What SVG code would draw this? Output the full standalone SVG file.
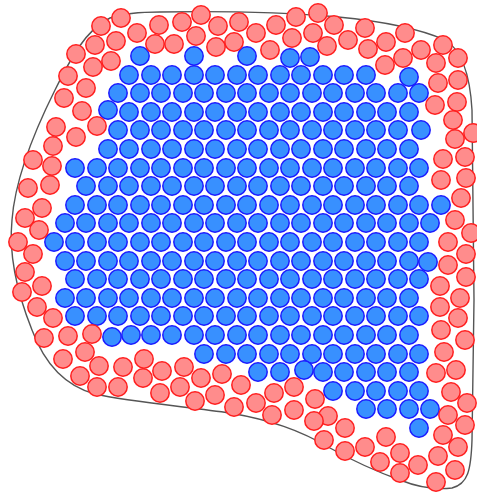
<svg xmlns="http://www.w3.org/2000/svg" width="477" height="498" viewBox="0 0 477 498">
<style>
#outline{fill:none;stroke:#555;stroke-width:1.4}
.b circle{fill:#3890ff;stroke:#1b1bff;stroke-width:1.5}
.r circle{fill:#ff8c8c;stroke:#ff1f1f;stroke-width:1.5}
</style>
<rect width="477" height="498" fill="#fff"/>
<path id="outline" d="M160 12 C220 11 280 12 338 17 C380 21 420 29 445 40 C462 50 470 75 472 110 L474 300 L472 440 C471 470 468 484 452 488 C435 490 415 486 400 480 C375 471 355 462 330 448 C300 430 270 420 230 413 C190 407 130 402 95 394 C65 386 45 365 32 330 C20 300 8 260 12 220 C15 180 35 130 55 90 C70 60 85 30 110 18 C125 13 140 12 160 12 Z"/>
<g id="blue" class="b">
<circle cx="140" cy="56" r="9.2"/><circle cx="194" cy="56" r="9.2"/><circle cx="247" cy="56" r="9.2"/><circle cx="290" cy="58" r="9.2"/><circle cx="310" cy="57" r="9.2"/>
<circle cx="129" cy="75" r="9.2"/><circle cx="151" cy="75" r="9.2"/><circle cx="172" cy="75" r="9.2"/><circle cx="194" cy="75" r="9.2"/><circle cx="215" cy="75" r="9.2"/><circle cx="237" cy="75" r="9.2"/><circle cx="258" cy="75" r="9.2"/><circle cx="280" cy="75" r="9.2"/><circle cx="301" cy="75" r="9.2"/><circle cx="323" cy="75" r="9.2"/><circle cx="344" cy="75" r="9.2"/><circle cx="366" cy="75" r="9.2"/><circle cx="409" cy="77" r="9.2"/>
<circle cx="118" cy="93" r="9.2"/><circle cx="140" cy="93" r="9.2"/><circle cx="161" cy="93" r="9.2"/><circle cx="183" cy="93" r="9.2"/><circle cx="204" cy="93" r="9.2"/><circle cx="226" cy="93" r="9.2"/><circle cx="247" cy="93" r="9.2"/><circle cx="269" cy="93" r="9.2"/><circle cx="290" cy="93" r="9.2"/><circle cx="312" cy="93" r="9.2"/><circle cx="333" cy="93" r="9.2"/><circle cx="355" cy="93" r="9.2"/><circle cx="376" cy="93" r="9.2"/><circle cx="398" cy="93" r="9.2"/><circle cx="419" cy="93" r="9.2"/>
<circle cx="108" cy="110" r="9.2"/><circle cx="129" cy="112" r="9.2"/><circle cx="151" cy="112" r="9.2"/><circle cx="172" cy="112" r="9.2"/><circle cx="194" cy="112" r="9.2"/><circle cx="215" cy="112" r="9.2"/><circle cx="237" cy="112" r="9.2"/><circle cx="258" cy="112" r="9.2"/><circle cx="280" cy="112" r="9.2"/><circle cx="301" cy="112" r="9.2"/><circle cx="323" cy="112" r="9.2"/><circle cx="344" cy="112" r="9.2"/><circle cx="366" cy="112" r="9.2"/><circle cx="387" cy="112" r="9.2"/><circle cx="409" cy="112" r="9.2"/>
<circle cx="118" cy="130" r="9.2"/><circle cx="140" cy="130" r="9.2"/><circle cx="161" cy="130" r="9.2"/><circle cx="183" cy="130" r="9.2"/><circle cx="204" cy="130" r="9.2"/><circle cx="226" cy="130" r="9.2"/><circle cx="247" cy="130" r="9.2"/><circle cx="269" cy="130" r="9.2"/><circle cx="290" cy="130" r="9.2"/><circle cx="312" cy="130" r="9.2"/><circle cx="333" cy="130" r="9.2"/><circle cx="355" cy="130" r="9.2"/><circle cx="376" cy="130" r="9.2"/><circle cx="398" cy="130" r="9.2"/><circle cx="421" cy="130" r="9.2"/>
<circle cx="108" cy="149" r="9.2"/><circle cx="129" cy="149" r="9.2"/><circle cx="151" cy="149" r="9.2"/><circle cx="172" cy="149" r="9.2"/><circle cx="194" cy="149" r="9.2"/><circle cx="215" cy="149" r="9.2"/><circle cx="237" cy="149" r="9.2"/><circle cx="258" cy="149" r="9.2"/><circle cx="280" cy="149" r="9.2"/><circle cx="301" cy="149" r="9.2"/><circle cx="323" cy="149" r="9.2"/><circle cx="344" cy="149" r="9.2"/><circle cx="366" cy="149" r="9.2"/><circle cx="387" cy="149" r="9.2"/><circle cx="409" cy="149" r="9.2"/>
<circle cx="75" cy="168" r="9.2"/><circle cx="97" cy="168" r="9.2"/><circle cx="118" cy="168" r="9.2"/><circle cx="140" cy="168" r="9.2"/><circle cx="161" cy="168" r="9.2"/><circle cx="183" cy="168" r="9.2"/><circle cx="204" cy="168" r="9.2"/><circle cx="226" cy="168" r="9.2"/><circle cx="247" cy="168" r="9.2"/><circle cx="269" cy="168" r="9.2"/><circle cx="290" cy="168" r="9.2"/><circle cx="312" cy="168" r="9.2"/><circle cx="333" cy="168" r="9.2"/><circle cx="355" cy="168" r="9.2"/><circle cx="376" cy="168" r="9.2"/><circle cx="398" cy="168" r="9.2"/><circle cx="419" cy="168" r="9.2"/>
<circle cx="86" cy="186" r="9.2"/><circle cx="108" cy="186" r="9.2"/><circle cx="129" cy="186" r="9.2"/><circle cx="151" cy="186" r="9.2"/><circle cx="172" cy="186" r="9.2"/><circle cx="194" cy="186" r="9.2"/><circle cx="215" cy="186" r="9.2"/><circle cx="237" cy="186" r="9.2"/><circle cx="258" cy="186" r="9.2"/><circle cx="280" cy="186" r="9.2"/><circle cx="301" cy="186" r="9.2"/><circle cx="323" cy="186" r="9.2"/><circle cx="344" cy="186" r="9.2"/><circle cx="366" cy="186" r="9.2"/><circle cx="387" cy="186" r="9.2"/><circle cx="409" cy="186" r="9.2"/>
<circle cx="75" cy="205" r="9.2"/><circle cx="97" cy="205" r="9.2"/><circle cx="118" cy="205" r="9.2"/><circle cx="140" cy="205" r="9.2"/><circle cx="161" cy="205" r="9.2"/><circle cx="183" cy="205" r="9.2"/><circle cx="204" cy="205" r="9.2"/><circle cx="226" cy="205" r="9.2"/><circle cx="247" cy="205" r="9.2"/><circle cx="269" cy="205" r="9.2"/><circle cx="290" cy="205" r="9.2"/><circle cx="312" cy="205" r="9.2"/><circle cx="333" cy="205" r="9.2"/><circle cx="355" cy="205" r="9.2"/><circle cx="376" cy="205" r="9.2"/><circle cx="398" cy="205" r="9.2"/><circle cx="419" cy="205" r="9.2"/><circle cx="441" cy="205" r="9.2"/>
<circle cx="65" cy="223" r="9.2"/><circle cx="86" cy="223" r="9.2"/><circle cx="108" cy="223" r="9.2"/><circle cx="129" cy="223" r="9.2"/><circle cx="151" cy="223" r="9.2"/><circle cx="172" cy="223" r="9.2"/><circle cx="194" cy="223" r="9.2"/><circle cx="215" cy="223" r="9.2"/><circle cx="237" cy="223" r="9.2"/><circle cx="258" cy="223" r="9.2"/><circle cx="280" cy="223" r="9.2"/><circle cx="301" cy="223" r="9.2"/><circle cx="323" cy="223" r="9.2"/><circle cx="344" cy="223" r="9.2"/><circle cx="366" cy="223" r="9.2"/><circle cx="387" cy="223" r="9.2"/><circle cx="409" cy="223" r="9.2"/><circle cx="430" cy="223" r="9.2"/>
<circle cx="54" cy="242" r="9.2"/><circle cx="75" cy="242" r="9.2"/><circle cx="97" cy="242" r="9.2"/><circle cx="118" cy="242" r="9.2"/><circle cx="140" cy="242" r="9.2"/><circle cx="161" cy="242" r="9.2"/><circle cx="183" cy="242" r="9.2"/><circle cx="204" cy="242" r="9.2"/><circle cx="226" cy="242" r="9.2"/><circle cx="247" cy="242" r="9.2"/><circle cx="269" cy="242" r="9.2"/><circle cx="290" cy="242" r="9.2"/><circle cx="312" cy="242" r="9.2"/><circle cx="333" cy="242" r="9.2"/><circle cx="355" cy="242" r="9.2"/><circle cx="376" cy="242" r="9.2"/><circle cx="398" cy="242" r="9.2"/><circle cx="419" cy="242" r="9.2"/>
<circle cx="65" cy="261" r="9.2"/><circle cx="86" cy="261" r="9.2"/><circle cx="108" cy="261" r="9.2"/><circle cx="129" cy="261" r="9.2"/><circle cx="151" cy="261" r="9.2"/><circle cx="172" cy="261" r="9.2"/><circle cx="194" cy="261" r="9.2"/><circle cx="215" cy="261" r="9.2"/><circle cx="237" cy="261" r="9.2"/><circle cx="258" cy="261" r="9.2"/><circle cx="280" cy="261" r="9.2"/><circle cx="301" cy="261" r="9.2"/><circle cx="323" cy="261" r="9.2"/><circle cx="344" cy="261" r="9.2"/><circle cx="366" cy="261" r="9.2"/><circle cx="387" cy="261" r="9.2"/><circle cx="409" cy="261" r="9.2"/><circle cx="428" cy="262" r="9.2"/>
<circle cx="75" cy="279" r="9.2"/><circle cx="97" cy="279" r="9.2"/><circle cx="118" cy="279" r="9.2"/><circle cx="140" cy="279" r="9.2"/><circle cx="161" cy="279" r="9.2"/><circle cx="183" cy="279" r="9.2"/><circle cx="204" cy="279" r="9.2"/><circle cx="226" cy="279" r="9.2"/><circle cx="247" cy="279" r="9.2"/><circle cx="269" cy="279" r="9.2"/><circle cx="290" cy="279" r="9.2"/><circle cx="312" cy="279" r="9.2"/><circle cx="333" cy="279" r="9.2"/><circle cx="355" cy="279" r="9.2"/><circle cx="376" cy="279" r="9.2"/><circle cx="398" cy="279" r="9.2"/><circle cx="419" cy="279" r="9.2"/>
<circle cx="65" cy="298" r="9.2"/><circle cx="86" cy="298" r="9.2"/><circle cx="108" cy="298" r="9.2"/><circle cx="129" cy="298" r="9.2"/><circle cx="151" cy="298" r="9.2"/><circle cx="172" cy="298" r="9.2"/><circle cx="194" cy="298" r="9.2"/><circle cx="215" cy="298" r="9.2"/><circle cx="237" cy="298" r="9.2"/><circle cx="258" cy="298" r="9.2"/><circle cx="280" cy="298" r="9.2"/><circle cx="301" cy="298" r="9.2"/><circle cx="323" cy="298" r="9.2"/><circle cx="344" cy="298" r="9.2"/><circle cx="366" cy="298" r="9.2"/><circle cx="387" cy="298" r="9.2"/><circle cx="409" cy="298" r="9.2"/>
<circle cx="75" cy="316" r="9.2"/><circle cx="97" cy="316" r="9.2"/><circle cx="118" cy="316" r="9.2"/><circle cx="140" cy="316" r="9.2"/><circle cx="161" cy="316" r="9.2"/><circle cx="183" cy="316" r="9.2"/><circle cx="204" cy="316" r="9.2"/><circle cx="226" cy="316" r="9.2"/><circle cx="247" cy="316" r="9.2"/><circle cx="269" cy="316" r="9.2"/><circle cx="290" cy="316" r="9.2"/><circle cx="312" cy="316" r="9.2"/><circle cx="333" cy="316" r="9.2"/><circle cx="355" cy="316" r="9.2"/><circle cx="376" cy="316" r="9.2"/><circle cx="398" cy="316" r="9.2"/><circle cx="419" cy="316" r="9.2"/>
<circle cx="112" cy="337" r="9.2"/><circle cx="131" cy="335" r="9.2"/><circle cx="151" cy="335" r="9.2"/><circle cx="172" cy="335" r="9.2"/><circle cx="194" cy="335" r="9.2"/><circle cx="215" cy="335" r="9.2"/><circle cx="237" cy="335" r="9.2"/><circle cx="258" cy="335" r="9.2"/><circle cx="280" cy="335" r="9.2"/><circle cx="301" cy="335" r="9.2"/><circle cx="323" cy="335" r="9.2"/><circle cx="344" cy="335" r="9.2"/><circle cx="366" cy="335" r="9.2"/><circle cx="387" cy="335" r="9.2"/><circle cx="409" cy="335" r="9.2"/>
<circle cx="204" cy="354" r="9.2"/><circle cx="226" cy="354" r="9.2"/><circle cx="247" cy="354" r="9.2"/><circle cx="269" cy="354" r="9.2"/><circle cx="290" cy="354" r="9.2"/><circle cx="312" cy="354" r="9.2"/><circle cx="333" cy="354" r="9.2"/><circle cx="355" cy="354" r="9.2"/><circle cx="376" cy="354" r="9.2"/><circle cx="398" cy="354" r="9.2"/><circle cx="419" cy="354" r="9.2"/>
<circle cx="258" cy="372" r="9.2"/><circle cx="280" cy="372" r="9.2"/><circle cx="304" cy="370" r="9.2"/><circle cx="323" cy="372" r="9.2"/><circle cx="344" cy="372" r="9.2"/><circle cx="366" cy="372" r="9.2"/><circle cx="387" cy="372" r="9.2"/><circle cx="409" cy="372" r="9.2"/>
<circle cx="333" cy="391" r="9.2"/><circle cx="355" cy="391" r="9.2"/><circle cx="376" cy="391" r="9.2"/><circle cx="398" cy="391" r="9.2"/><circle cx="419" cy="391" r="9.2"/>
<circle cx="366" cy="409" r="9.2"/><circle cx="387" cy="409" r="9.2"/><circle cx="409" cy="409" r="9.2"/><circle cx="430" cy="409" r="9.2"/>
<circle cx="419" cy="428" r="9.2"/>
</g>
<g id="red" class="r">
<circle cx="121" cy="18" r="9.2"/><circle cx="101" cy="26" r="9.2"/><circle cx="137" cy="33" r="9.2"/><circle cx="116" cy="41" r="9.2"/><circle cx="95" cy="45" r="9.2"/><circle cx="155" cy="44" r="9.2"/><circle cx="76" cy="54" r="9.2"/><circle cx="111" cy="61" r="9.2"/><circle cx="93" cy="67" r="9.2"/><circle cx="68" cy="76" r="9.2"/><circle cx="86" cy="88" r="9.2"/><circle cx="64" cy="98" r="9.2"/><circle cx="82" cy="111" r="9.2"/><circle cx="97" cy="126" r="9.2"/><circle cx="56" cy="127" r="9.2"/><circle cx="76" cy="137" r="9.2"/><circle cx="53" cy="146" r="9.2"/><circle cx="33" cy="160" r="9.2"/><circle cx="52" cy="166" r="9.2"/><circle cx="159" cy="25" r="9.2"/>
<circle cx="182" cy="22" r="9.2"/><circle cx="201" cy="15" r="9.2"/><circle cx="196" cy="36" r="9.2"/><circle cx="218" cy="26" r="9.2"/><circle cx="174" cy="44" r="9.2"/><circle cx="216" cy="47" r="9.2"/><circle cx="239" cy="22" r="9.2"/><circle cx="234" cy="42" r="9.2"/><circle cx="256" cy="33" r="9.2"/><circle cx="276" cy="25" r="9.2"/><circle cx="270" cy="50" r="9.2"/><circle cx="296" cy="17" r="9.2"/><circle cx="292" cy="38" r="9.2"/><circle cx="318" cy="13" r="9.2"/><circle cx="313" cy="33" r="9.2"/>
<circle cx="334" cy="25" r="9.2"/><circle cx="365" cy="28" r="9.2"/><circle cx="348" cy="40" r="9.2"/><circle cx="327" cy="46" r="9.2"/><circle cx="386" cy="42" r="9.2"/><circle cx="405" cy="33" r="9.2"/><circle cx="368" cy="49" r="9.2"/><circle cx="421" cy="50" r="9.2"/><circle cx="443" cy="45" r="9.2"/><circle cx="385" cy="65" r="9.2"/><circle cx="403" cy="58" r="9.2"/><circle cx="436" cy="63" r="9.2"/><circle cx="458" cy="58" r="9.2"/><circle cx="438" cy="83" r="9.2"/><circle cx="458" cy="80" r="9.2"/><circle cx="435" cy="105" r="9.2"/><circle cx="457" cy="102" r="9.2"/><circle cx="453" cy="120" r="9.2"/><circle cx="473" cy="133" r="9.2"/><circle cx="455" cy="139" r="9.2"/><circle cx="465" cy="157" r="9.2"/><circle cx="443" cy="159" r="9.2"/>
<circle cx="441" cy="180" r="9.2"/><circle cx="466" cy="178" r="9.2"/><circle cx="461" cy="198" r="9.2"/><circle cx="455" cy="220" r="9.2"/><circle cx="471" cy="233" r="9.2"/><circle cx="448" cy="242" r="9.2"/><circle cx="466" cy="254" r="9.2"/><circle cx="448" cy="265" r="9.2"/><circle cx="466" cy="277" r="9.2"/><circle cx="440" cy="286" r="9.2"/><circle cx="460" cy="298" r="9.2"/><circle cx="440" cy="307" r="9.2"/><circle cx="458" cy="318" r="9.2"/><circle cx="441" cy="330" r="9.2"/>
<circle cx="465" cy="340" r="9.2"/><circle cx="444" cy="352" r="9.2"/><circle cx="436" cy="373" r="9.2"/><circle cx="456" cy="370" r="9.2"/><circle cx="451" cy="392" r="9.2"/><circle cx="467" cy="403" r="9.2"/><circle cx="448" cy="415" r="9.2"/><circle cx="465" cy="425" r="9.2"/><circle cx="443" cy="435" r="9.2"/><circle cx="458" cy="447" r="9.2"/><circle cx="438" cy="456" r="9.2"/><circle cx="455" cy="470" r="9.2"/><circle cx="436" cy="482" r="9.2"/><circle cx="418" cy="465" r="9.2"/><circle cx="400" cy="473" r="9.2"/><circle cx="400" cy="453" r="9.2"/><circle cx="380" cy="462" r="9.2"/><circle cx="386" cy="437" r="9.2"/><circle cx="365" cy="447" r="9.2"/><circle cx="345" cy="451" r="9.2"/><circle cx="324" cy="440" r="9.2"/><circle cx="345" cy="428" r="9.2"/><circle cx="328" cy="416" r="9.2"/><circle cx="315" cy="399" r="9.2"/>
<circle cx="162" cy="371" r="9.2"/><circle cx="184" cy="367" r="9.2"/><circle cx="201" cy="378" r="9.2"/><circle cx="222" cy="374" r="9.2"/><circle cx="160" cy="393" r="9.2"/><circle cx="180" cy="387" r="9.2"/><circle cx="195" cy="401" r="9.2"/><circle cx="215" cy="395" r="9.2"/><circle cx="241" cy="385" r="9.2"/><circle cx="234" cy="407" r="9.2"/><circle cx="256" cy="403" r="9.2"/><circle cx="274" cy="393" r="9.2"/><circle cx="294" cy="387" r="9.2"/><circle cx="272" cy="415" r="9.2"/><circle cx="294" cy="410" r="9.2"/><circle cx="314" cy="421" r="9.2"/>
<circle cx="44" cy="338" r="9.2"/><circle cx="68" cy="336" r="9.2"/><circle cx="92" cy="334" r="9.2"/><circle cx="63" cy="359" r="9.2"/><circle cx="85" cy="352" r="9.2"/><circle cx="99" cy="366" r="9.2"/><circle cx="80" cy="376" r="9.2"/><circle cx="97" cy="387" r="9.2"/><circle cx="123" cy="367" r="9.2"/><circle cx="118" cy="387" r="9.2"/><circle cx="144" cy="359" r="9.2"/><circle cx="143" cy="378" r="9.2"/>
<circle cx="28" cy="188" r="9.2"/><circle cx="50" cy="185" r="9.2"/><circle cx="42" cy="208" r="9.2"/><circle cx="25" cy="218" r="9.2"/><circle cx="39" cy="230" r="9.2"/><circle cx="18" cy="242" r="9.2"/><circle cx="33" cy="254" r="9.2"/><circle cx="25" cy="272" r="9.2"/><circle cx="42" cy="286" r="9.2"/><circle cx="22" cy="292" r="9.2"/><circle cx="37" cy="307" r="9.2"/><circle cx="53" cy="318" r="9.2"/>
</g>
</svg>
